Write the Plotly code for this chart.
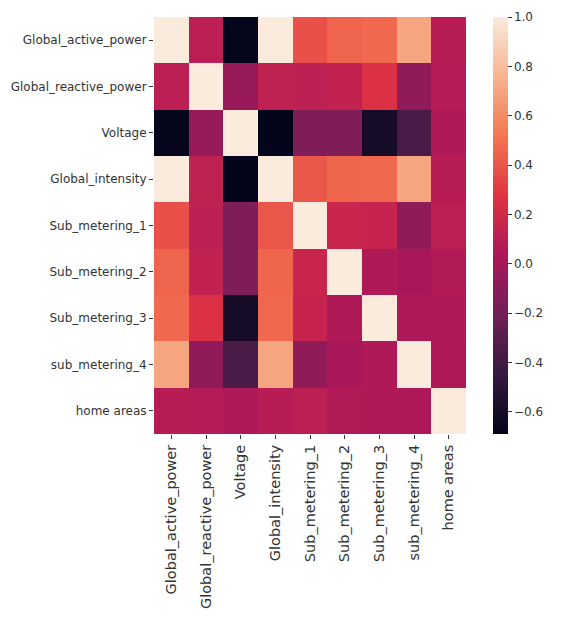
import plotly.graph_objects as go

labels = [
    "Global_active_power", "Global_reactive_power", "Voltage", "Global_intensity",
    "Sub_metering_1", "Sub_metering_2", "Sub_metering_3", "sub_metering_4", "home areas",
]

# Pairwise correlation matrix (rows follow the label order)
corr = [
    [1.00, 0.10, -0.68, 1.00, 0.38, 0.45, 0.47, 0.70, 0.08],
    [0.10, 1.00, -0.05, 0.12, 0.11, 0.13, 0.25, -0.08, 0.07],
    [-0.68, -0.05, 1.00, -0.69, -0.15, -0.15, -0.60, -0.36, 0.05],
    [1.00, 0.12, -0.69, 1.00, 0.40, 0.46, 0.47, 0.70, 0.08],
    [0.38, 0.11, -0.15, 0.40, 1.00, 0.16, 0.15, -0.08, 0.10],
    [0.45, 0.13, -0.15, 0.46, 0.16, 1.00, 0.05, 0.02, 0.06],
    [0.47, 0.25, -0.60, 0.47, 0.15, 0.05, 1.00, 0.05, 0.05],
    [0.70, -0.08, -0.36, 0.70, -0.08, 0.02, 0.05, 1.00, 0.04],
    [0.08, 0.07, 0.05, 0.08, 0.10, 0.06, 0.05, 0.04, 1.00],
]

cbar_ticks = [-0.6, -0.4, -0.2, 0.0, 0.2, 0.4, 0.6, 0.8, 1.0]

# seaborn "rocket" colormap
rocket = [
    [0.0, "#03051a"],
    [0.143, "#35193e"],
    [0.286, "#701f57"],
    [0.429, "#ad1759"],
    [0.571, "#e13342"],
    [0.714, "#f37651"],
    [0.857, "#f6b48f"],
    [1.0, "#faebdd"],
]

ink = "#333333"
yfont = dict(family="DejaVu Sans", size=12, color=ink)
xfont = dict(family="DejaVu Sans", size=14.5, color=ink)

fig = go.Figure(
    go.Heatmap(
        z=corr,
        x=labels,
        y=labels,
        colorscale=rocket,
        zmin=-0.69,
        zmax=1.0,
        colorbar=dict(
            x=1.053,
            xanchor="left",
            y=0.5,
            yanchor="middle",
            len=1.0,
            lenmode="fraction",
            ypad=0,
            thickness=15,
            outlinewidth=0,
            tickvals=cbar_ticks,
            ticktext=[f"{v:.1f}".replace("-", "\u2212") for v in cbar_ticks],
            ticks="outside",
            ticklen=4,
            tickcolor=ink,
            tickfont=yfont,
        ),
    )
)

fig.update_layout(
    width=565,
    height=629,
    margin=dict(l=154, r=71, t=17, b=195),
    paper_bgcolor="white",
    plot_bgcolor="white",
    font=yfont,
    showlegend=False,
)
fig.update_xaxes(
    tickangle=-90,
    ticks="outside",
    ticklen=4,
    tickcolor=ink,
    showgrid=False,
    zeroline=False,
    showline=False,
    tickfont=xfont,
)
fig.update_yaxes(
    autorange="reversed",
    ticks="outside",
    ticklen=4,
    tickcolor=ink,
    showgrid=False,
    zeroline=False,
    showline=False,
    tickfont=yfont,
)

fig.write_html("out.html")
